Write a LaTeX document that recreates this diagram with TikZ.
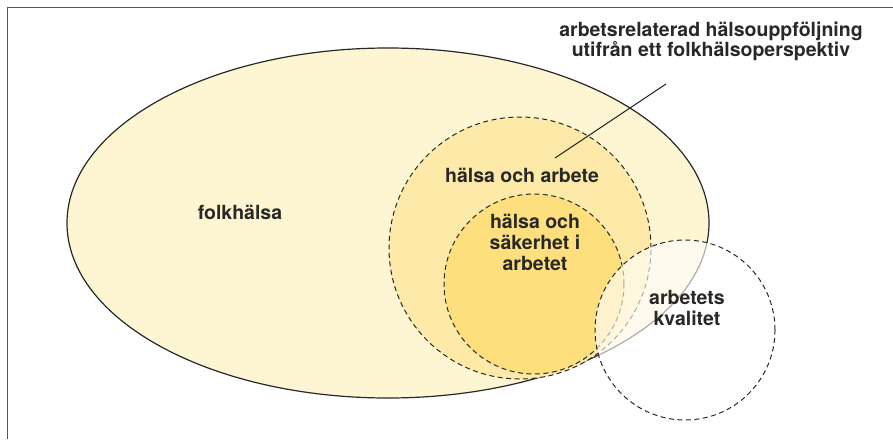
\documentclass[tikz,border=0pt]{standalone}
\usepackage{fontspec}
\setmainfont{TeX Gyre Heros}
\usetikzlibrary{shapes.geometric}
\definecolor{folkfill}{RGB}{254,245,211}
\definecolor{arbfill}{RGB}{253,233,168}
\definecolor{sakfill}{RGB}{253,223,126}
\definecolor{txt}{RGB}{40,40,40}
\definecolor{frame}{RGB}{85,85,85}
\tikzset{
  lbl/.style={font=\bfseries\fontsize{19.5}{21}\selectfont, text=txt, align=center, inner sep=0pt},
  dashcirc/.style={circle, draw=txt, line width=1pt, dash pattern=on 5pt off 3.5pt, inner sep=0pt},
}
\begin{document}
\begin{tikzpicture}[x=1pt,y=-1pt]
\useasboundingbox (0,0) rectangle (893,439);
\draw[frame, line width=1.5pt] (7.5,439) -- (7.5,7.5) -- (893,7.5);
% folkhalsa ellipse
\node[ellipse, draw=txt, fill=folkfill, line width=1.2pt, minimum width=642pt, minimum height=350pt, inner sep=0pt] (folk) at (388,223) {};
% halsa och arbete
\node[circle, fill=arbfill, minimum size=262pt, inner sep=0pt] (arb) at (520,248) {};
\node[circle, fill=sakfill, minimum size=180pt, inner sep=0pt] (sak) at (534,284) {};
\node[dashcirc, minimum size=262pt] (arbd) at (520,248) {};
\node[dashcirc, minimum size=180pt] (sakd) at (534,284) {};
% arbetets kvalitet overlay
\node[circle, fill=white, fill opacity=0.62, minimum size=180pt, inner sep=0pt] (kval) at (685,330) {};
\node[dashcirc, minimum size=180pt] (kvald) at (685,330) {};
% leader
\coordinate (lA) at (666,84);
\coordinate (lB) at (555,158);
\draw[txt, line width=1pt] (lA) -- (lB);
% labels
\node[lbl, anchor=base] (tfolk) at (240,219) {folkhälsa};
\node[lbl, anchor=base] (tarb) at (522,182) {hälsa och arbete};
\node[lbl, anchor=base] (tsak) at (535,270) {hälsa och\\säkerhet i\\arbetet};
\node[lbl, anchor=base] (tkval) at (687,325) {arbetets\\kvalitet};
\node[lbl, anchor=base, font=\bfseries\fontsize{19.5}{20}\selectfont] (tperspektiv) at (711,56) {arbetsrelaterad hälsouppföljning\\utifrån ett folkhälsoperspektiv};
\end{tikzpicture}
\end{document}
